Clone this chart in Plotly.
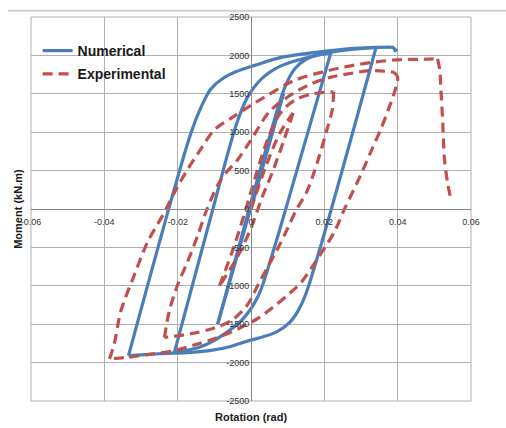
import plotly.graph_objects as go

# ---- Numerical model response: rotation (rad) / moment (kN.m), one list per loading branch ----
num_rot = [
    [0.0000, 0.0088],
    [0.0088, -0.0091],
    [-0.0091, -0.0005, 0.0050, 0.0080, 0.0100, 0.0120, 0.0150, 0.0185, 0.0218],
    [0.0218, 0.0100, 0.0060, 0.0020, -0.0020, -0.0073, -0.0120, -0.0164, -0.0209],
    [-0.0209, -0.0104, -0.0040, -0.0010, 0.0030, 0.0080, 0.0136, 0.0218, 0.0280, 0.0341],
    [0.0341, 0.0150, 0.0128, 0.0105, 0.0070, 0.0027, -0.0010, -0.0055, -0.0109, -0.0164, -0.0250, -0.0334],
    [-0.0334, -0.0164, -0.0135, -0.0110, -0.0080, -0.0040, 0.0010, 0.0082, 0.0160, 0.0250, 0.0341, 0.0382],
    [0.0382, 0.0390, 0.0393, 0.0398],
]
num_mom = [
    [0, 1500],
    [1500, -1500],
    [-1500, 0, 930, 1420, 1670, 1830, 1950, 2010, 2040],
    [2040, 86, -560, -1130, -1420, -1629, -1760, -1830, -1866],
    [-1866, 0, 1100, 1450, 1700, 1860, 1950, 2040, 2080, 2103],
    [2103, -1100, -1330, -1480, -1600, -1673, -1720, -1790, -1840, -1866, -1885, -1909],
    [-1909, 987, 1340, 1560, 1690, 1790, 1870, 1974, 2030, 2080, 2105, 2108],
    [2108, 2095, 2060, 2085],
]

# ---- Experimental response ----
exp_rot = [
    [0.0000, 0.0040, 0.0080, 0.0115],
    [0.0115, 0.0090, 0.0060, 0.0030, 0.0000, -0.0040, -0.0086],
    [-0.0086, -0.0045, -0.0014, 0.0014, 0.0045, 0.0080, 0.0120, 0.0170, 0.0225],
    [0.0225, 0.0222, 0.0205, 0.0187, 0.0170, 0.0150, 0.0125, 0.0100, 0.0073, 0.0045,
     0.0020, -0.0010, -0.0050, -0.0100, -0.0160, -0.0236],
    [-0.0236, -0.0223, -0.0200, -0.0173, -0.0145, -0.0120, -0.0080, -0.0036, 0.0000,
     0.0050, 0.0100, 0.0164, 0.0218, 0.0264, 0.0327, 0.0390],
    [0.0390, 0.0400, 0.0390, 0.0375, 0.0355, 0.0330, 0.0300, 0.0255, 0.0227, 0.0182,
     0.0136, 0.0100, 0.0060, 0.0020, -0.0030, -0.0100, -0.0155, -0.0209, -0.0282,
     -0.0336, -0.0386],
    [-0.0386, -0.0373, -0.0355, -0.0318, -0.0282, -0.0236, -0.0209, -0.0173, -0.0141,
     -0.0100, -0.0055, 0.0000, 0.0045, 0.0118, 0.0210, 0.0300, 0.0390, 0.0470, 0.0509],
    [0.0509, 0.0515, 0.0518, 0.0523, 0.0527, 0.0536, 0.0545],
]
exp_mom = [
    [0, 550, 1000, 1250],
    [1250, 900, 500, 150, -250, -650, -1000],
    [-1000, -470, 0, 450, 900, 1250, 1420, 1500, 1524],
    [1524, 1300, 1000, 700, 450, 200, 0, -250, -515, -760,
     -980, -1250, -1440, -1550, -1620, -1673],
    [-1673, -1330, -986, -686, -342, 0, 400, 644, 900,
     1266, 1459, 1631, 1717, 1759, 1802, 1781],
    [1781, 1717, 1500, 1300, 1050, 780, 450, 0, -300, -644,
     -960, -1120, -1280, -1420, -1550, -1690, -1770, -1844, -1896,
     -1930, -1951],
    [-1951, -1758, -1330, -857, -429, -42, 215, 515, 751,
     1030, 1180, 1351, 1480, 1673, 1802, 1888, 1940, 1950, 1955],
    [1955, 1800, 1545, 1116, 687, 344, 129],
]

x_ticks = [-0.06, -0.04, -0.02, 0, 0.02, 0.04, 0.06]
x_tick_text = ["-0.06", "-0.04", "-0.02", "0", "0.02", "0.04", "0.06"]
y_ticks = [-2500, -2000, -1500, -1000, -500, 0, 500, 1000, 1500, 2000, 2500]
y_tick_text = ["-2500", "-2000", "-1500", "-1000", "-500", "0",
               "500", "1000", "1500", "2000", "2500"]

BLUE = "#4a7ebb"
RED = "#c0504d"
GRID = "#b0b0b0"
AXIS = "#868686"
FONT = "Liberation Sans, Arial, sans-serif"

fig = go.Figure()


def add_series(rot_branches, mom_branches, name, line):
    for i, (xs, ys) in enumerate(zip(rot_branches, mom_branches)):
        fig.add_trace(go.Scatter(
            x=xs, y=ys, mode="lines", name=name, legendgroup=name,
            showlegend=(i == 0), line=dict(shape="spline", smoothing=0.9, **line),
        ))


add_series(num_rot, num_mom, "Numerical", dict(color=BLUE, width=3.2))
add_series(exp_rot, exp_mom, "Experimental", dict(color=RED, width=3.2, dash="10px,6px"))

fig.update_layout(
    width=506, height=428,
    margin=dict(l=31, r=35, t=12, b=27),
    paper_bgcolor="white", plot_bgcolor="white",
    font=dict(family=FONT, color="#262626"),
    showlegend=True,
    legend=dict(
        x=0.015, y=0.953, xanchor="left", yanchor="top",
        bgcolor="rgba(0,0,0,0)", borderwidth=0, tracegroupgap=2,
        font=dict(size=14, family=FONT, color="#1a1a1a", weight="bold"),
        itemwidth=30,
    ),
    xaxis=dict(
        range=[-0.06, 0.06], tickvals=x_ticks, ticktext=x_tick_text,
        showgrid=True, gridcolor=GRID, gridwidth=1,
        zeroline=False, showline=True, linecolor=AXIS, linewidth=1,
        anchor="free", position=0.5, ticks="",
        tickfont=dict(size=9, family=FONT, color="#333333"),
        ticklabelstandoff=4,
    ),
    yaxis=dict(
        range=[-2500, 2500], tickvals=y_ticks, ticktext=y_tick_text,
        showgrid=True, gridcolor=GRID, gridwidth=1,
        zeroline=False, showline=True, linecolor=AXIS, linewidth=1,
        anchor="free", position=0.5, ticks="",
        tickfont=dict(size=9, family=FONT, color="#333333"),
    ),
    shapes=[
        # plot-area frame
        dict(type="rect", xref="paper", yref="paper", x0=0, x1=1, y0=0, y1=1,
             line=dict(color=GRID, width=1), layer="below"),
        # chart-area top rule
        dict(type="line", xref="paper", yref="paper", x0=-0.052, x1=1.08,
             y0=1.0162, y1=1.0162, line=dict(color="#d0d0d0", width=2)),
    ],
    annotations=[
        dict(text="<b>Rotation (rad)</b>", xref="paper", yref="paper",
             x=0.5, y=-0.022, xanchor="center", yanchor="top", showarrow=False,
             font=dict(size=11, family=FONT, color="#1a1a1a")),
        dict(text="<b>Moment (kN.m)</b>", xref="paper", yref="paper",
             x=-0.03, y=0.5, xanchor="center", yanchor="middle", showarrow=False,
             textangle=-90, font=dict(size=11, family=FONT, color="#1a1a1a")),
    ],
)

fig.write_html("out.html")
